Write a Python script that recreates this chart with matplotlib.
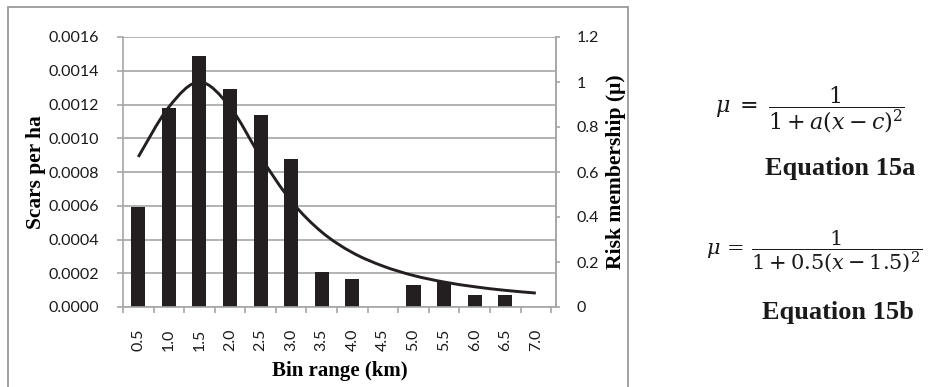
import numpy as np
import matplotlib
matplotlib.use("Agg")
import matplotlib.pyplot as plt
from matplotlib.path import Path
from matplotlib.patches import PathPatch, Rectangle

# Fire scar density per distance bin and the fitted risk membership curve
bins = ["0.5", "1.0", "1.5", "2.0", "2.5", "3.0", "3.5",
        "4.0", "4.5", "5.0", "5.5", "6.0", "6.5", "7.0"]
scars = [0.00059, 0.00118, 0.00149, 0.00129, 0.00114, 0.00088, 0.00021,
         0.000165, 0.0, 0.00013, 0.000148, 0.000073, 0.000073, 0.0]
membership = [0.667, 0.889, 1.0, 0.889, 0.667, 0.471, 0.333,
              0.242, 0.182, 0.140, 0.111, 0.090, 0.074, 0.062]
left_ticks = [0.0, 0.0002, 0.0004, 0.0006, 0.0008, 0.0010, 0.0012, 0.0014, 0.0016]
right_ticks = [0, 0.2, 0.4, 0.6, 0.8, 1.0, 1.2]
right_labels = ["0", "0.2", "0.4", "0.6", "0.8", "1", "1.2"]

W, H = 934, 387
DARK = "#231f20"
GRID = "#a6a6a6"
TXT = "#1a1a1a"
TICKFONT = "Lato"
LABELFONT = "Liberation Serif"

plt.rcParams["mathtext.fontset"] = "dejavuserif"

fig = plt.figure(figsize=(W / 100, H / 100), dpi=100)
fig.patches.append(Rectangle((8 / W, -0.05), 620 / W, (H - 7) / H + 0.05,
                             transform=fig.transFigure, fill=False,
                             edgecolor="#9a9a9a", linewidth=1.3))

ax = fig.add_axes([123 / W, (H - 307) / H, (556 - 123) / W, (307 - 37) / H])
x = np.arange(len(bins))
ax.bar(x, scars, width=0.46, color=DARK, zorder=2)
ax.set_xlim(-0.5, 13.66)
ax.set_ylim(0, 0.0016)

ax.set_yticks(left_ticks)
ax.set_yticklabels(["%.4f" % v for v in left_ticks], fontfamily=TICKFONT)
ax.yaxis.grid(True, color=GRID, linewidth=1.2, zorder=0)
ax.set_axisbelow(True)
ax.tick_params(axis="y", length=4.5, width=1.2, color=GRID, pad=12.5,
               labelsize=11.5, labelcolor=TXT)

# category labels centred on bars, tick marks on the bin boundaries
ax.set_xticks(x)
ax.set_xticklabels(bins, rotation=90, fontfamily=TICKFONT)
ax.set_xticks(np.arange(len(bins) + 1) - 0.5, minor=True)
ax.tick_params(axis="x", which="major", length=0, pad=15.5,
               labelsize=11.5, labelcolor=TXT)
ax.tick_params(axis="x", which="minor", length=4, width=1.2, color=GRID)

ax.spines["top"].set_visible(False)
for side in ["left", "bottom", "right"]:
    ax.spines[side].set_color(GRID)
    ax.spines[side].set_linewidth(1.2)

ax.set_ylabel("Scars per ha", fontfamily=LABELFONT, fontweight="bold",
              fontsize=15.4, labelpad=2)
ax.set_xlabel("Bin range (km)", fontfamily=LABELFONT, fontweight="bold",
              fontsize=15, labelpad=7.5)

ax2 = ax.twinx()
ax2.set_ylim(0, 1.2)
ax2.set_yticks(right_ticks)
ax2.set_yticklabels(right_labels, fontfamily=TICKFONT)
ax2.tick_params(axis="y", length=3, width=1.2, color=GRID, pad=12,
                labelsize=11.5, labelcolor=TXT)
for side in ["top", "left", "bottom"]:
    ax2.spines[side].set_visible(False)
ax2.spines["right"].set_color(GRID)
ax2.spines["right"].set_linewidth(1.2)
ax2.set_ylabel("Risk membership (\u03bc)", fontfamily=LABELFONT,
               fontweight="bold", fontsize=15.6, labelpad=4.5)

# smoothed line through the membership points (cubic Bezier segments)
pts = np.column_stack([x, membership]).astype(float)
verts = [tuple(pts[0])]
codes = [Path.MOVETO]
n = len(pts)
for i in range(n - 1):
    p0 = pts[max(i - 1, 0)]
    p1 = pts[i]
    p2 = pts[i + 1]
    p3 = pts[min(i + 2, n - 1)]
    c1 = p1 + (p2 - p0) / 6.0
    c2 = p2 - (p3 - p1) / 6.0
    verts += [tuple(c1), tuple(c2), tuple(p2)]
    codes += [Path.CURVE4] * 3
ax2.add_patch(PathPatch(Path(verts, codes), facecolor="none",
                        edgecolor=DARK, linewidth=2.1, zorder=3,
                        capstyle="butt"))

# equations beside the chart
fig.text(715 / W, 1 - 110 / H, r"$\mu\;=\;\dfrac{1}{1+a(x-c)^2}$",
         fontsize=16, ha="left", va="center", color=TXT)
fig.text(840 / W, 1 - 168 / H, "Equation 15a", fontfamily=LABELFONT,
         fontweight="bold", fontsize=19, ha="center", va="center",
         color=TXT)
fig.text(706 / W, 1 - 252 / H, r"$\mu\,=\,\dfrac{1}{1+0.5(x-1.5)^2}$",
         fontsize=15, ha="left", va="center", color=TXT)
fig.text(838 / W, 1 - 313 / H, "Equation 15b", fontfamily=LABELFONT,
         fontweight="bold", fontsize=19, ha="center", va="center",
         color=TXT)

fig.savefig("out.png", dpi=100)
